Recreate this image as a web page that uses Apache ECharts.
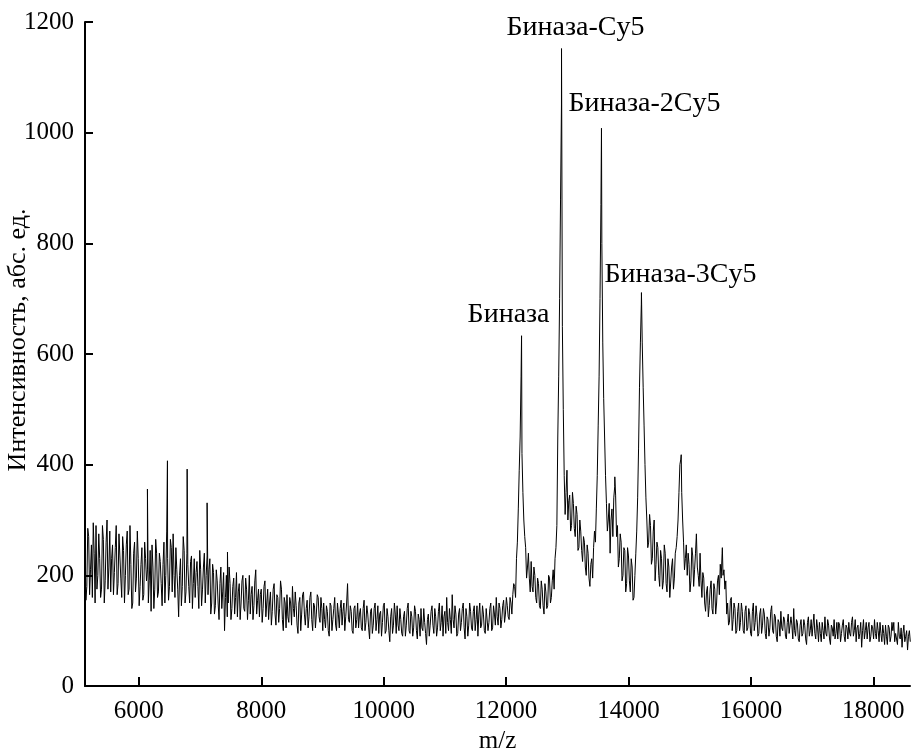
<!DOCTYPE html>
<html>
<head>
<meta charset="utf-8">
<script src="https://cdn.jsdelivr.net/npm/echarts@6/dist/echarts.min.js"></script>
<style>html,body{margin:0;padding:0;background:#fff;}#c{width:911px;height:749px;}</style>
</head>
<body>
<div id="c"></div>
<script>
// m/z grid of the noisy trace: "baseline" at 5120 + 30*i, "baselineMid" at 5135 + 30*i
const mzStart = 5120;
const mzStep = 30;
const mzMidOffset = 15;
// intensity values
const baseline = [
  250,180,270,210,160,240,290,200,230,175,
  265,190,300,215,170,255,205,290,185,235,
  160,245,200,280,175,220,150,260,195,230,
  180,250,165,230,210,190,135,215,175,240,
  170,225,145,260,200,230,180,250,275,160,
  210,125,230,180,245,170,220,150,235,185,
  160,225,140,210,175,240,200,165,230,150,
  205,145,190,120,215,170,100,200,150,185,
  140,195,160,125,185,150,200,135,175,155,
  130,180,145,210,155,125,175,140,190,150,
  120,170,135,185,110,160,140,175,100,150,
  165,115,150,180,125,145,95,160,130,170,
  110,155,125,170,100,145,130,160,115,140,
  150,105,135,90,145,120,160,100,130,140,
  110,150,125,185,115,135,95,145,120,105,
  140,100,155,115,130,85,140,110,150,120,
  95,135,115,150,100,125,80,140,110,130,
  145,100,120,90,135,110,150,95,125,105,
  135,85,120,140,100,115,75,130,110,145,
  95,125,105,150,115,90,135,160,100,120,
  165,105,130,95,140,115,150,85,125,110,
  135,100,145,120,90,150,110,130,95,140,
  115,150,105,130,160,110,140,120,155,130,
  145,120,150,165,180,230,320,450,420,300,
  250,215,195,225,170,200,150,185,140,175,
  130,170,145,195,160,210,230,290,560,880,
  650,380,350,300,345,290,330,270,310,250,
  280,225,260,200,240,180,230,250,260,380,
  560,870,620,450,330,300,240,320,340,345,
  290,230,260,200,245,185,235,170,215,160,
  240,340,540,690,540,400,300,260,290,230,
  300,220,250,180,230,190,240,170,215,160,
  230,195,250,300,400,350,260,230,200,220,
  190,235,210,275,200,240,160,195,135,180,
  145,190,130,175,150,200,220,240,210,190,
  150,115,160,120,140,100,150,115,135,95,
  145,105,130,90,150,115,125,95,140,110,
  130,85,120,105,145,95,125,80,115,135,
  100,120,85,130,95,110,140,90,115,80,
  120,95,110,75,125,100,90,130,85,105,
  115,80,100,125,90,110,75,105,120,95,
  85,110,95,120,80,105,115,90,125,100,
  80,110,95,70,120,100,85,115,90,105,
  120,85,100,115,80,95,110,75,105,90,
  100,80,95,115,85,70,110,90,65,100
];
const baselineMid = [
  155,285,165,255,295,150,175,275,160,290,
  150,260,175,280,230,165,250,165,275,195,
  270,150,255,165,290,140,240,170,280,145,
  220,155,260,190,150,245,255,140,265,160,
  240,185,220,150,280,155,265,170,200,250,
  175,200,145,270,150,240,180,225,140,230,
  205,180,245,145,215,150,235,210,130,220,
  130,210,150,185,140,205,160,125,215,120,
  180,130,205,170,120,190,140,195,120,200,
  165,120,190,130,175,165,115,180,125,175,
  150,110,175,130,165,115,190,120,160,105,
  125,160,110,140,170,110,150,100,165,130,
  140,105,160,120,150,105,165,125,160,100,
  120,145,100,150,100,140,110,150,105,155,
  135,100,150,120,145,100,140,105,150,130,
  105,140,100,145,105,135,95,140,100,145,
  130,90,145,95,140,100,125,95,150,95,
  110,140,95,125,90,140,100,135,90,145,
  100,130,90,105,140,95,120,90,135,110,
  140,90,135,100,145,125,95,115,140,95,
  120,145,90,130,100,140,105,140,90,150,
  105,135,100,145,130,105,145,100,140,100,
  140,100,145,110,125,150,105,145,115,160,
  125,160,130,185,160,260,390,560,350,270,
  195,240,170,180,215,160,195,145,190,145,
  185,140,200,150,190,175,250,450,700,1050,
  500,310,390,335,280,350,285,325,245,300,
  245,270,215,255,195,220,195,280,320,470,
  700,800,520,380,280,330,300,270,360,270,
  215,275,190,250,170,250,190,230,155,200,
  280,430,620,620,470,340,250,310,220,280,
  190,260,200,245,175,255,185,230,160,215,
  175,240,270,350,410,300,210,255,240,170,
  250,180,240,215,180,190,205,150,170,125,
  175,140,185,130,190,165,195,200,175,130,
  110,155,100,150,95,135,100,150,100,135,
  100,140,95,135,100,145,90,130,95,140,
  95,125,90,135,100,130,90,120,90,105,
  125,90,115,95,125,85,100,120,85,110,
  90,120,85,115,90,120,110,95,120,80,
  95,115,85,95,120,85,110,90,85,115,
  115,80,110,90,110,85,95,115,90,120,
  105,85,115,100,85,115,105,80,110,85,
  95,115,80,95,110,75,90,110,80,115,
  115,95,75,90,105,95,80,100,90,80
];
// peak apexes
const peakMz        = [6140, 6467, 6789, 7115, 7448, 12253, 12906, 13559, 13777, 14212, 14862, 15534];
const peakIntensity = [356,  407,  392,  331,  242,  633,   1152,  1008,  378,   711,   418,   250];
// annotated peaks
const peakLabels     = ['Биназа', 'Биназа-Cy5', 'Биназа-2Cy5', 'Биназа-3Cy5'];
const peakLabelIndex = [5, 6, 7, 9];
// axes
const xTicks = [6000, 8000, 10000, 12000, 14000, 16000, 18000];
const xMin = 5120, xMax = 18600;
const yMin = 0, yMax = 1200, yStep = 200;
const xName = 'm/z';
const yName = 'Интенсивность, абс. ед.';

const FONT = "'Liberation Serif', 'Times New Roman', 'DejaVu Serif', serif";

const points = baseline.map((v, i) => [mzStart + i * mzStep, v])
  .concat(baselineMid.map((v, i) => [mzStart + mzMidOffset + i * mzStep, v]))
  .concat(peakMz.map((m, i) => [m, peakIntensity[i]]))
  .sort((a, b) => a[0] - b[0]);

const labelStyles = [
  { align: 'right',  offset: [28, -21] },
  { align: 'center', offset: [14, -21] },
  { align: 'left',   offset: [-33, -25] },
  { align: 'left',   offset: [-37, -18] }
];

const markData = peakLabelIndex.map((k, j) => ({
  name: peakLabels[j],
  coord: [peakMz[k], peakIntensity[k]],
  label: { align: labelStyles[j].align, offset: labelStyles[j].offset }
}));

const chart = echarts.init(document.getElementById('c'), null, { renderer: 'canvas' });
chart.setOption({
  animation: false,
  backgroundColor: '#fff',
  grid: { left: 85, right: 1, top: 22, bottom: 63, containLabel: false, outerBoundsMode: 'none' },
  xAxis: {
    type: 'value', min: xMin, max: xMax,
    name: xName, nameLocation: 'middle', nameGap: 43,
    nameTextStyle: { fontSize: 25, fontFamily: FONT, color: '#000' },
    axisLine: { show: true, onZero: false, lineStyle: { color: '#000', width: 2 } },
    axisTick: { show: true, inside: true, length: 9, customValues: xTicks, lineStyle: { color: '#000', width: 2 } },
    axisLabel: { customValues: xTicks, fontSize: 25, fontFamily: FONT, color: '#000', margin: 13,
                 formatter: v => String(v) },
    splitLine: { show: false }
  },
  yAxis: {
    type: 'value', min: yMin, max: yMax, interval: yStep,
    axisLine: { show: true, lineStyle: { color: '#000', width: 2 } },
    axisTick: { show: true, inside: true, length: 8, lineStyle: { color: '#000', width: 2 } },
    axisLabel: { fontSize: 25, fontFamily: FONT, color: '#000', margin: 11, formatter: v => String(v) },
    splitLine: { show: false }
  },
  graphic: [{
    type: 'text', x: 18, y: 340, rotation: Math.PI / 2,
    style: { text: yName, fontSize: 26, fontFamily: FONT, fill: '#000',
             align: 'center', verticalAlign: 'middle', textAlign: 'center', textVerticalAlign: 'middle' }
  }],
  series: [{
    type: 'line',
    data: points,
    showSymbol: false,
    symbol: 'none',
    sampling: null,
    lineStyle: { color: '#000', width: 1 },
    markPoint: {
      symbol: 'circle', symbolSize: 1,
      itemStyle: { color: 'rgba(0,0,0,0)' },
      label: { show: true, formatter: '{b}', position: 'inside', fontSize: 28, fontFamily: FONT, color: '#000', verticalAlign: 'middle' },
      data: markData
    }
  }]
});
</script>
</body>
</html>
